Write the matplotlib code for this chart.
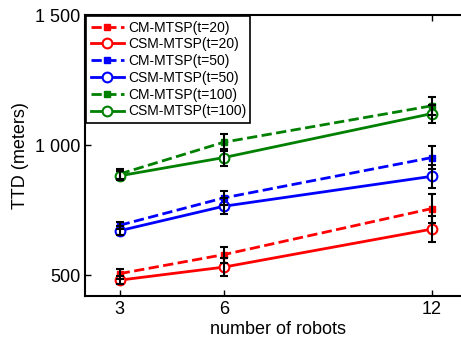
import numpy as np
import matplotlib.pyplot as plt
from matplotlib.ticker import FuncFormatter

plt.rcParams['font.family'] = ['Liberation Sans', 'DejaVu Sans']

robots = [3, 6, 12]

# mean TTD and error per series
cm20 = [506, 579, 756]
cm20_err = [19, 31, 57]
csm20 = [481, 531, 677]
csm20_err = [16, 35, 50]
cm50 = [692, 797, 952]
cm50_err = [14, 28, 44]
csm50 = [671, 765, 880]
csm50_err = [18, 30, 45]
cm100 = [889, 1011, 1151]
cm100_err = [20, 32, 35]
csm100 = [882, 952, 1121]
csm100_err = [18, 34, 35]

series = [
    ('CM-MTSP(t=20)', cm20, cm20_err, 'red', '--', 's'),
    ('CSM-MTSP(t=20)', csm20, csm20_err, 'red', '-', 'o'),
    ('CM-MTSP(t=50)', cm50, cm50_err, 'blue', '--', 's'),
    ('CSM-MTSP(t=50)', csm50, csm50_err, 'blue', '-', 'o'),
    ('CM-MTSP(t=100)', cm100, cm100_err, 'green', '--', 's'),
    ('CSM-MTSP(t=100)', csm100, csm100_err, 'green', '-', 'o'),
]

fig = plt.figure(figsize=(4.61, 3.44), dpi=100)
# axes run past the right edge, like the cropped original
ax = fig.add_axes([85/461, 48/344, 385/461, 281/344])

handles = []
for name, y, err, col, ls, mk in series:
    ax.errorbar(robots, y, yerr=err, fmt='none', ecolor='black',
                elinewidth=1.5, capsize=3, capthick=1.5, zorder=3)
    if mk == 's':
        h, = ax.plot(robots, y, ls=ls, color=col, lw=2, marker='s', ms=5,
                     mfc=col, mec=col, label=name, zorder=2)
    else:
        h, = ax.plot(robots, y, ls=ls, color=col, lw=2, marker='o', ms=7,
                     mfc='white', mec=col, mew=1.5, label=name, zorder=2)
    handles.append(h)

ax.set_xlim(2, 13.1)
ax.set_ylim(420, 1500)
ax.set_xticks(robots)
ax.set_yticks([500, 1000, 1500])
ax.yaxis.set_major_formatter(FuncFormatter(lambda v, p: '{:,}'.format(int(v)).replace(',', ' ')))
ax.tick_params(direction='in', top=True, right=True, labelsize=13, width=1, length=4)
for s in ax.spines.values():
    s.set_linewidth(1.5)

ax.set_xlabel('number of robots', fontsize=13, labelpad=2)
ax.set_ylabel('TTD (meters)', fontsize=13, labelpad=4)

leg = ax.legend(handles=handles, loc='upper left', borderaxespad=0.1, fontsize=10,
                fancybox=False, framealpha=1, edgecolor='black',
                handlelength=2.4, handletextpad=0.3, labelspacing=0.2,
                borderpad=0.3)
leg.get_frame().set_linewidth(1.2)

fig.savefig('out.png', dpi=100)
